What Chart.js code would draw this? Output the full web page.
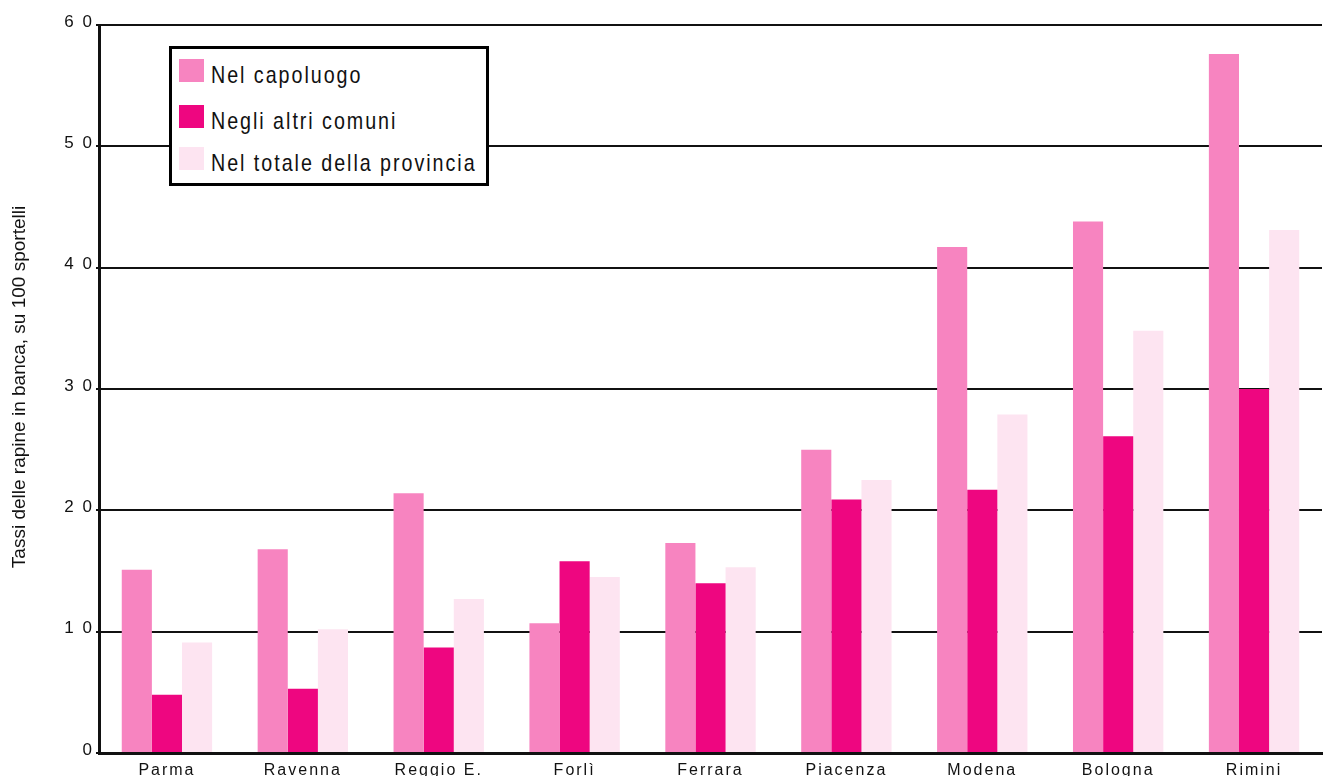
<!DOCTYPE html>
<html>
<head>
<meta charset="utf-8">
<script src="https://cdn.jsdelivr.net/npm/chart.js@4.4.1/dist/chart.umd.min.js"></script>
<style>
  body { margin: 0; background: #fff; }
  #wrap { position: relative; width: 1326px; height: 776px; overflow: hidden; }
  #legend {
    position: absolute; left: 169px; top: 46px;
    width: 314px; height: 134px;
    border: 3px solid #000; background: #fff;
    font-family: "Liberation Sans", Arial, sans-serif;
    font-size: 24px; line-height: 24px; letter-spacing: 2.4px; color: #111;
  }
  #legend .box { position: absolute; left: 7px; width: 25px; height: 23px; }
  #legend .txt {
    position: absolute; left: 39px; white-space: nowrap;
    transform: scaleX(0.82); transform-origin: left center;
  }
</style>
</head>
<body>
<div id="wrap">
  <canvas id="rapine-chart"></canvas>
  <div id="legend"></div>
</div>
<script>
// Province e tassi di rapine (per 100 sportelli)
const provinces = ['Parma', 'Ravenna', 'Reggio E.', 'Forlì', 'Ferrara', 'Piacenza', 'Modena', 'Bologna', 'Rimini'];
const capoluogo = [15.1, 16.8, 21.4, 10.7, 17.3, 25.0, 41.7, 43.8, 57.6];
const altriComuni = [4.8, 5.3, 8.7, 15.8, 14.0, 20.9, 21.7, 26.1, 30.0];
const totaleProvincia = [9.1, 10.2, 12.7, 14.5, 15.3, 22.5, 27.9, 34.8, 43.1];
const seriesLabels = ['Nel capoluogo', 'Negli altri comuni', 'Nel totale della provincia'];
const seriesColors = ['#f784c0', '#ee0680', '#fde4f1'];
const yMax = 60;
const yStep = 10;
const yTitle = 'Tassi delle rapine in banca, su 100 sportelli';

Chart.defaults.font.family = '"Liberation Sans", Arial, sans-serif';
Chart.defaults.color = '#111';

// spaziatura delle lettere per etichette e tick
const letterSpacing = {
    id: 'letterSpacing',
    beforeDraw(chart) {
        chart.ctx.letterSpacing = '2px';
    }
};

// titolo verticale dell'asse y
const axisTitle = {
    id: 'axisTitle',
    afterDraw(chart) {
        const ctx = chart.ctx;
        ctx.save();
        ctx.letterSpacing = '0px';
        ctx.translate(20, 387);
        ctx.rotate(-Math.PI / 2);
        ctx.font = '19px "Liberation Sans", sans-serif';
        ctx.fillStyle = '#111';
        ctx.textAlign = 'center';
        ctx.textBaseline = 'middle';
        ctx.fillText(yTitle, 0, 0);
        ctx.restore();
    }
};

const series = [capoluogo, altriComuni, totaleProvincia];

const chart = new Chart(document.getElementById('rapine-chart'), {
    type: 'bar',
    data: {
        labels: provinces,
        datasets: series.map((values, i) => ({
            label: seriesLabels[i],
            data: values,
            backgroundColor: seriesColors[i],
            borderWidth: 0,
            categoryPercentage: 0.665,
            barPercentage: 1
        }))
    },
    options: {
        responsive: true,
        maintainAspectRatio: false,
        animation: false,
        layout: { padding: { top: 25, right: 4, left: 0, bottom: 0 } },
        plugins: {
            legend: { display: false },
            tooltip: { enabled: false }
        },
        scales: {
            x: {
                grid: { display: false },
                border: { display: true, color: '#111', width: 3 },
                ticks: { font: { size: 16 }, padding: 0, maxRotation: 0 },
                afterFit(scale) { scale.height = 23; }
            },
            y: {
                min: 0,
                max: yMax,
                grid: { color: '#111', lineWidth: 2, tickLength: 3 },
                border: { display: true, color: '#111', width: 3 },
                ticks: {
                    stepSize: yStep,
                    padding: 2,
                    labelOffset: -3,
                    font: { size: 17 },
                    callback: v => String(v).split('').join(' ')
                },
                afterFit(scale) { scale.width = 99; }
            }
        }
    },
    plugins: [letterSpacing, axisTitle]
});

// legenda con bordo, costruita dai dataset
const legendEl = document.getElementById('legend');
const rowTops = [10, 56, 98];
chart.data.datasets.forEach((ds, i) => {
    const box = document.createElement('div');
    box.className = 'box';
    box.style.top = rowTops[i] + 'px';
    box.style.background = ds.backgroundColor;
    const txt = document.createElement('div');
    txt.className = 'txt';
    txt.style.top = (rowTops[i] + 4) + 'px';
    txt.textContent = ds.label;
    legendEl.appendChild(box);
    legendEl.appendChild(txt);
});
</script>
</body>
</html>
